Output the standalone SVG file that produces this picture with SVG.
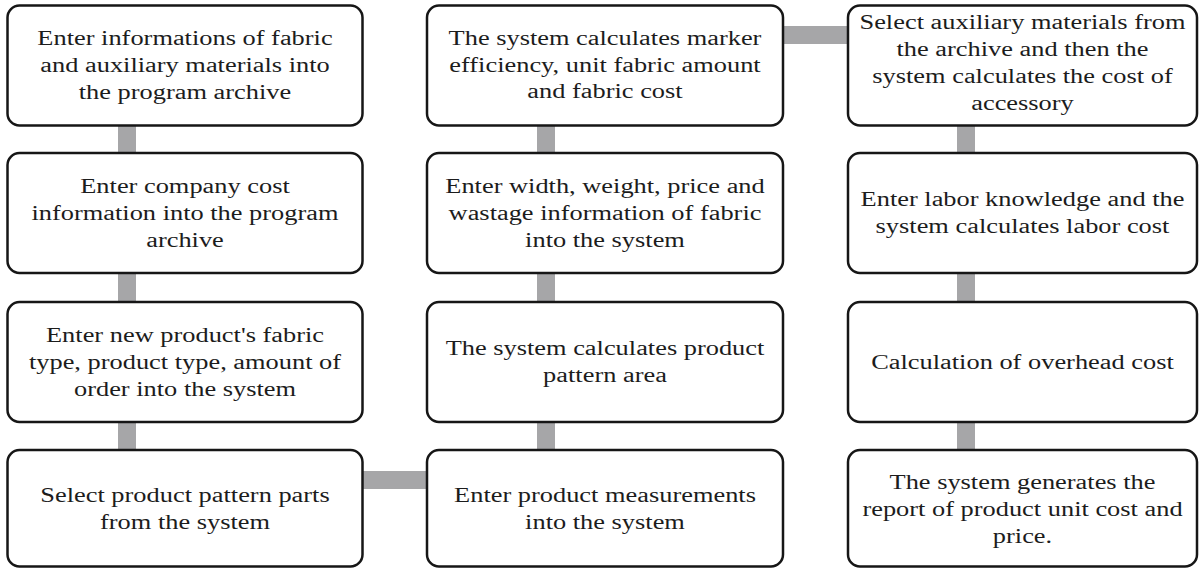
<svg xmlns="http://www.w3.org/2000/svg" width="1200" height="569" viewBox="0 0 1200 569">
<style>
.box{fill:#ffffff;stroke:#161616;stroke-width:2.5}
.con{fill:#a6a6a8}
text{font-family:"Liberation Serif","Times New Roman",serif;font-size:20px;fill:#1c1c1c;text-anchor:middle}
</style>
<rect width="1200" height="569" fill="#ffffff"/>
<g id="connectors">
<rect class="con" x="118" y="124" width="18" height="31"/>
<rect class="con" x="118" y="271" width="18" height="33"/>
<rect class="con" x="118" y="420" width="18" height="32"/>
<rect class="con" x="361" y="471" width="67" height="18"/>
<rect class="con" x="537" y="420" width="18" height="32"/>
<rect class="con" x="537" y="271" width="18" height="33"/>
<rect class="con" x="537" y="124" width="18" height="31"/>
<rect class="con" x="781" y="26" width="68" height="18"/>
<rect class="con" x="957" y="124" width="18" height="31"/>
<rect class="con" x="957" y="271" width="18" height="33"/>
<rect class="con" x="957" y="420" width="18" height="32"/>
</g>
<g id="n1">
<rect class="box" x="7.5" y="5.5" width="355" height="120" rx="12"/>
<g transform="translate(185 0) scale(1.32 1)"><text y="45.5">Enter informations of fabric</text><text y="72.5">and auxiliary materials into</text><text y="99.5">the program archive</text></g>
</g>
<g id="n2">
<rect class="box" x="7.5" y="153" width="355" height="120" rx="12"/>
<g transform="translate(185 0) scale(1.32 1)"><text y="193">Enter company cost</text><text y="220">information into the program</text><text y="247">archive</text></g>
</g>
<g id="n3">
<rect class="box" x="7.5" y="302" width="355" height="120" rx="12"/>
<g transform="translate(185 0) scale(1.32 1)"><text y="342">Enter new product's fabric</text><text y="369">type, product type, amount of</text><text y="396">order into the system</text></g>
</g>
<g id="n4">
<rect class="box" x="7.5" y="450" width="355" height="116.5" rx="12"/>
<g transform="translate(185 0) scale(1.32 1)"><text y="502">Select product pattern parts</text><text y="529">from the system</text></g>
</g>
<g id="n5">
<rect class="box" x="427" y="450" width="356" height="116.5" rx="12"/>
<g transform="translate(605 0) scale(1.32 1)"><text y="502">Enter product measurements</text><text y="529">into the system</text></g>
</g>
<g id="n6">
<rect class="box" x="427" y="302" width="356" height="120" rx="12"/>
<g transform="translate(605 0) scale(1.32 1)"><text y="355.5">The system calculates product</text><text y="382.5">pattern area</text></g>
</g>
<g id="n7">
<rect class="box" x="427" y="153" width="356" height="120" rx="12"/>
<g transform="translate(605 0) scale(1.32 1)"><text y="193">Enter width, weight, price and</text><text y="220">wastage information of fabric</text><text y="247">into the system</text></g>
</g>
<g id="n8">
<rect class="box" x="427" y="5.5" width="356" height="120" rx="12"/>
<g transform="translate(605 0) scale(1.32 1)"><text y="45.5">The system calculates marker</text><text y="72">efficiency, unit fabric amount</text><text y="98.5">and fabric cost</text></g>
</g>
<g id="n9">
<rect class="box" x="848" y="5.5" width="349" height="120" rx="12"/>
<g transform="translate(1022.5 0) scale(1.32 1)"><text y="29.5">Select auxiliary materials from</text><text y="56.5">the archive and then the</text><text y="83.5">system calculates the cost of</text><text y="110.5">accessory</text></g>
</g>
<g id="n10">
<rect class="box" x="848" y="153" width="349" height="120" rx="12"/>
<g transform="translate(1022.5 0) scale(1.32 1)"><text y="206.5">Enter labor knowledge and the</text><text y="233.5">system calculates labor cost</text></g>
</g>
<g id="n11">
<rect class="box" x="848" y="302" width="349" height="120" rx="12"/>
<g transform="translate(1022.5 0) scale(1.32 1)"><text y="369">Calculation of overhead cost</text></g>
</g>
<g id="n12">
<rect class="box" x="848" y="450" width="349" height="116.5" rx="12"/>
<g transform="translate(1022.5 0) scale(1.32 1)"><text y="489">The system generates the</text><text y="516">report of product unit cost and</text><text y="543">price.</text></g>
</g>
</svg>
